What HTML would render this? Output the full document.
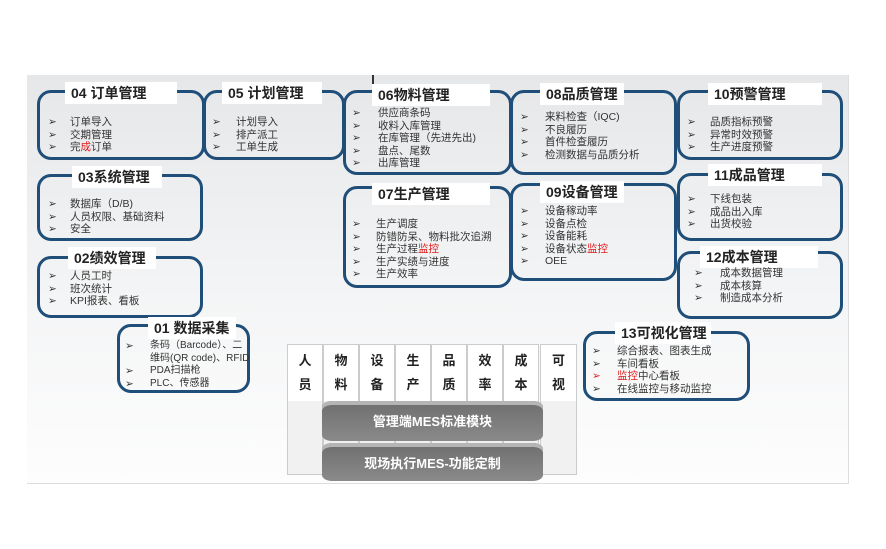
<!DOCTYPE html>
<html><head><meta charset="utf-8"><style>
body{margin:0;width:886px;height:549px;background:#fff;position:relative;overflow:hidden;font-family:"Liberation Sans","Noto Sans CJK SC",sans-serif;}
#panel{position:absolute;left:27px;top:75px;width:821px;height:408px;background:linear-gradient(#e6e7e9,#f4f5f6 55%,#fdfdfd);border-right:1px solid #ddd;border-bottom:1px solid #ddd}
.b{position:absolute;border:3px solid #1f4e79;border-radius:14px;box-sizing:border-box}
.t{position:absolute;background:#fff;font-weight:bold;font-size:14px;color:#222;height:22px;line-height:22px;padding-left:6px;box-sizing:border-box}
.l{position:absolute;font-size:10.5px;line-height:12.5px;color:#333;white-space:nowrap}
.red{color:#e02020}
.col{position:absolute;top:344px;width:36px;height:131px;background:#f1f1f1;border:1px solid #ccc;box-sizing:border-box}
.tile{position:absolute;top:345px;width:34px;height:56px;background:#fff;font-weight:bold;font-size:13px;text-align:center;line-height:24px;padding-top:4px;box-sizing:border-box;color:#222}
.cy{position:absolute;left:322px;width:221px;background:linear-gradient(#6e6e6e,#8a8a8a);border-radius:10px/6px;color:#fff;font-weight:bold;font-size:13px;text-align:center;box-shadow:inset 0 4px 0 #b5b5b5}
</style></head><body>
<div id="panel"></div>
<div style="position:absolute;left:372px;top:75px;width:2px;height:16px;background:#333"></div>

<div class="col" style="left:287px"></div><div class="col" style="left:323px"></div><div class="col" style="left:359px"></div><div class="col" style="left:395px"></div><div class="col" style="left:431px"></div><div class="col" style="left:467px"></div><div class="col" style="left:503px"></div><div class="col" style="left:540px;width:37px"></div>
<div class="tile" style="left:288px">人<br>员</div>
<div class="tile" style="left:324px">物<br>料</div>
<div class="tile" style="left:360px">设<br>备</div>
<div class="tile" style="left:396px">生<br>产</div>
<div class="tile" style="left:432px">品<br>质</div>
<div class="tile" style="left:468px">效<br>率</div>
<div class="tile" style="left:504px">成<br>本</div>
<div class="tile" style="left:541px;width:35px">可<br>视</div>
<div class="cy" style="top:401px;height:40px;line-height:42px">管理端MES标准模块</div>
<div class="cy" style="top:443px;height:38px;line-height:42px">现场执行MES-功能定制</div>

<div class="b" style="left:37px;top:90px;width:168px;height:70px"></div>
<div class="t" style="left:65px;top:82px;width:112px">04 订单管理</div>
<div class="l" style="left:48px;top:116px">➢<br>➢<br>➢</div>
<div class="l" style="left:70px;top:116px">订单导入<br>交期管理<br>完<span class="red">成</span>订单</div>

<div class="b" style="left:203px;top:90px;width:142px;height:70px"></div>
<div class="t" style="left:222px;top:82px;width:100px">05 计划管理</div>
<div class="l" style="left:212px;top:116px">➢<br>➢<br>➢</div>
<div class="l" style="left:236px;top:116px">计划导入<br>排产派工<br>工单生成</div>

<div class="b" style="left:343px;top:90px;width:169px;height:85px"></div>
<div class="t" style="left:372px;top:84px;width:118px">06物料管理</div>
<div class="l" style="left:352px;top:107px">➢<br>➢<br>➢<br>➢<br>➢</div>
<div class="l" style="left:378px;top:107px">供应商条码<br>收料入库管理<br>在库管理（先进先出)<br>盘点、尾数<br>出库管理</div>

<div class="b" style="left:510px;top:90px;width:167px;height:85px"></div>
<div class="t" style="left:540px;top:83px;width:84px">08品质管理</div>
<div class="l" style="left:520px;top:111px">➢<br>➢<br>➢<br>➢</div>
<div class="l" style="left:545px;top:111px">来料检查（IQC)<br>不良履历<br>首件检查履历<br>检测数据与品质分析</div>

<div class="b" style="left:677px;top:90px;width:166px;height:70px"></div>
<div class="t" style="left:708px;top:83px;width:114px">10预警管理</div>
<div class="l" style="left:687px;top:116px">➢<br>➢<br>➢</div>
<div class="l" style="left:710px;top:116px">品质指标预警<br>异常时效预警<br>生产进度预警</div>

<div class="b" style="left:37px;top:174px;width:166px;height:67px"></div>
<div class="t" style="left:72px;top:166px;width:90px">03系统管理</div>
<div class="l" style="left:48px;top:198px">➢<br>➢<br>➢</div>
<div class="l" style="left:70px;top:198px">数据库（D/B)<br>人员权限、基础资料<br>安全</div>

<div class="b" style="left:37px;top:256px;width:166px;height:62px"></div>
<div class="t" style="left:68px;top:247px;width:88px">02绩效管理</div>
<div class="l" style="left:48px;top:270px">➢<br>➢<br>➢</div>
<div class="l" style="left:70px;top:270px">人员工时<br>班次统计<br>KPI报表、看板</div>

<div class="b" style="left:343px;top:186px;width:169px;height:102px"></div>
<div class="t" style="left:372px;top:183px;width:118px">07生产管理</div>
<div class="l" style="left:352px;top:218px">➢<br>➢<br>➢<br>➢<br>➢</div>
<div class="l" style="left:376px;top:218px">生产调度<br>防错防呆、物料批次追溯<br>生产过程<span class="red">监控</span><br>生产实绩与进度<br>生产效率</div>

<div class="b" style="left:510px;top:183px;width:167px;height:98px"></div>
<div class="t" style="left:540px;top:181px;width:84px">09设备管理</div>
<div class="l" style="left:520px;top:205px">➢<br>➢<br>➢<br>➢<br>➢</div>
<div class="l" style="left:545px;top:205px">设备稼动率<br>设备点检<br>设备能耗<br>设备状态<span class="red">监控</span><br>OEE</div>

<div class="b" style="left:677px;top:173px;width:166px;height:68px"></div>
<div class="t" style="left:708px;top:164px;width:114px">11成品管理</div>
<div class="l" style="left:687px;top:193px">➢<br>➢<br>➢</div>
<div class="l" style="left:710px;top:193px">下线包装<br>成品出入库<br>出货校验</div>

<div class="b" style="left:677px;top:251px;width:166px;height:68px"></div>
<div class="t" style="left:700px;top:246px;width:118px">12成本管理</div>
<div class="l" style="left:694px;top:267px">➢<br>➢<br>➢</div>
<div class="l" style="left:720px;top:267px">成本数据管理<br>成本核算<br>制造成本分析</div>

<div class="b" style="left:117px;top:324px;width:133px;height:69px"></div>
<div class="t" style="left:148px;top:317px;width:88px">01 数据采集</div>
<div class="l" style="left:125px;top:340px">➢<br><br>➢<br>➢</div>
<div class="l" style="left:150px;top:340px;font-size:10px">条码（Barcode）、二<br>维码(QR code)、RFID<br>PDA扫描枪<br>PLC、传感器</div>

<div class="b" style="left:583px;top:331px;width:167px;height:70px"></div>
<div class="t" style="left:615px;top:322px;width:96px">13可视化管理</div>
<div class="l" style="left:592px;top:345px">➢<br>➢<br><span class="red">➢</span><br>➢</div>
<div class="l" style="left:617px;top:345px">综合报表、图表生成<br>车间看板<br><span class="red">监控</span>中心看板<br>在线监控与移动监控</div>
</body></html>
